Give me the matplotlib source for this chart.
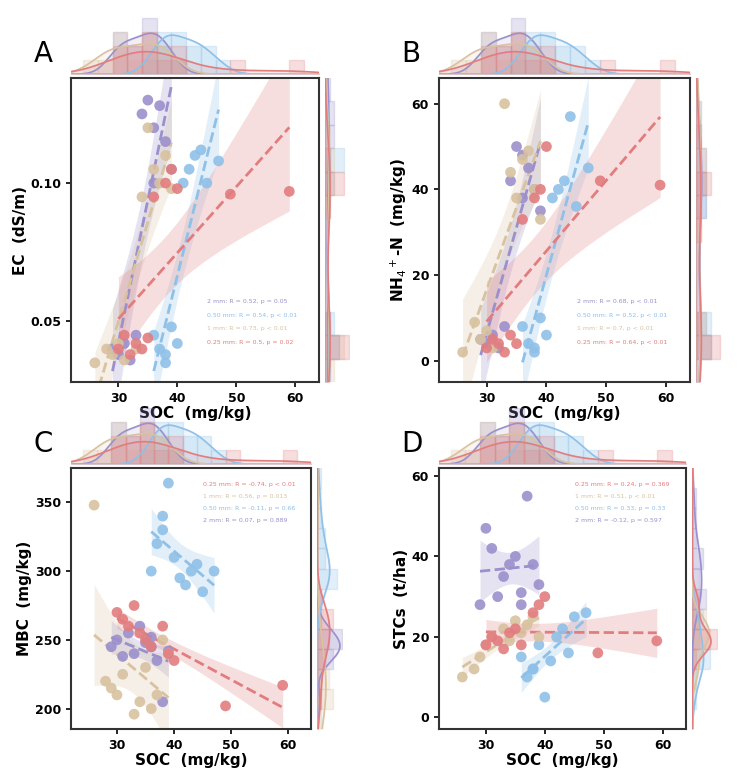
import numpy as np
import matplotlib.pyplot as plt

groups = ["2 mm", "0.50 mm", "1 mm", "0.25 mm"]
colors = ["#9b90cc", "#8fc0e8", "#d8c2a0", "#e27d7f"]

soc = {
    "2 mm":    [29, 30, 31, 32, 33, 34, 35, 36, 37, 38, 39, 36],
    "0.50 mm": [36, 37, 38, 39, 40, 41, 42, 43, 44, 45, 47, 38],
    "1 mm":    [26, 28, 29, 30, 31, 33, 34, 35, 36, 37, 38, 39],
    "0.25 mm": [30, 31, 32, 33, 34, 35, 36, 38, 39, 40, 49, 59],
}
ec = {
    "2 mm":    [0.040, 0.038, 0.042, 0.036, 0.045, 0.125, 0.130, 0.120, 0.128, 0.115, 0.105, 0.100],
    "0.50 mm": [0.045, 0.040, 0.035, 0.048, 0.042, 0.100, 0.105, 0.110, 0.112, 0.100, 0.108, 0.038],
    "1 mm":    [0.035, 0.040, 0.038, 0.042, 0.036, 0.040, 0.095, 0.120, 0.105, 0.100, 0.110, 0.098],
    "0.25 mm": [0.040, 0.045, 0.038, 0.042, 0.040, 0.044, 0.095, 0.100, 0.105, 0.098, 0.096, 0.097],
}
nh4 = {
    "2 mm":    [5, 4, 6, 3, 8, 42, 50, 38, 45, 40, 35, 48],
    "0.50 mm": [8, 4, 2, 10, 6, 38, 40, 42, 57, 36, 45, 3],
    "1 mm":    [2, 9, 5, 7, 3, 60, 44, 38, 47, 49, 40, 33],
    "0.25 mm": [3, 5, 4, 2, 6, 4, 33, 38, 40, 50, 42, 41],
}
mbc = {
    "2 mm":    [245, 250, 238, 255, 240, 260, 248, 252, 235, 205, 242, 245],
    "0.50 mm": [300, 320, 340, 364, 310, 295, 290, 300, 305, 285, 300, 330],
    "1 mm":    [348, 220, 215, 210, 225, 196, 205, 230, 200, 210, 250, 240],
    "0.25 mm": [270, 265, 260, 275, 255, 250, 245, 260, 240, 235, 202, 217],
}
stc = {
    "2 mm":    [28, 47, 42, 30, 35, 38, 40, 28, 55, 38, 33, 31],
    "0.50 mm": [15, 10, 12, 18, 5, 14, 20, 22, 16, 25, 26, 12],
    "1 mm":    [10, 12, 15, 18, 20, 22, 19, 24, 21, 23, 25, 20],
    "0.25 mm": [18, 20, 19, 17, 21, 22, 18, 26, 28, 30, 16, 19],
}

legend_A = ["2 mm: R = 0.52, p = 0.05", "0.50 mm: R = 0.54, p < 0.01",
            "1 mm: R = 0.73, p < 0.01", "0.25 mm: R = 0.5, p = 0.02"]
legend_B = ["2 mm: R = 0.68, p < 0.01", "0.50 mm: R = 0.52, p < 0.01",
            "1 mm: R = 0.7, p < 0.01", "0.25 mm: R = 0.64, p < 0.01"]
legend_C = ["0.25 mm: R = -0.74, p < 0.01", "1 mm: R = 0.56, p = 0.013",
            "0.50 mm: R = -0.11, p = 0.66", "2 mm: R = 0.07, p = 0.889"]
legend_D = ["0.25 mm: R = 0.24, p = 0.369", "1 mm: R = 0.51, p < 0.01",
            "0.50 mm: R = 0.33, p = 0.33", "2 mm: R = -0.12, p = 0.597"]


def kde(v, grid):
    v = np.asarray(v, float)
    bw = 1.06 * v.std() * len(v) ** -0.2
    d = np.exp(-0.5 * ((grid[:, None] - v[None, :]) / bw) ** 2).sum(1)
    return d / (len(v) * bw * np.sqrt(2 * np.pi))


def panel(fig, left, bottom, w, h, ydata, ylabel, letter, ylim, yticks, legend, leg_top):
    ax = fig.add_axes([left, bottom, w, h])
    axt = fig.add_axes([left, bottom + h + 0.005, w, 0.075], sharex=ax)
    axr = fig.add_axes([left + w + 0.008, bottom, 0.034, h], sharey=ax)
    xlim = (22, 64)
    for g, c in zip(groups, colors):
        x = np.array(soc[g], float)
        y = np.array(ydata[g], float)
        b, a = np.polyfit(x, y, 1)
        xs = np.linspace(x.min(), x.max(), 50)
        res = y - (a + b * x)
        s = np.sqrt((res ** 2).sum() / (len(x) - 2))
        se = s * np.sqrt(1 / len(x) + (xs - x.mean()) ** 2 / ((x - x.mean()) ** 2).sum())
        ax.fill_between(xs, a + b * xs - 1.6 * se, a + b * xs + 1.6 * se, color=c, alpha=0.25, lw=0)
        ax.plot(xs, a + b * xs, "--", color=c, lw=2)
        ax.scatter(x, y, s=60, color=c, alpha=0.9, edgecolor="none", zorder=3)
        # marginal histograms
        axt.hist(x, bins=np.arange(24, 62, 2.5), density=True, color=c, alpha=0.25, edgecolor=c)
        gx = np.linspace(*xlim, 200)
        axt.plot(gx, kde(x, gx), color=c, lw=1.2)
        axt.fill_between(gx, kde(x, gx), color=c, alpha=0.15)
        yb = np.linspace(ylim[0], ylim[1], 14)
        axr.hist(y, bins=yb, density=True, orientation="horizontal", color=c, alpha=0.25, edgecolor=c)
        gy = np.linspace(ylim[0], ylim[1], 200)
        axr.plot(kde(y, gy), gy, color=c, lw=1.2)
        axr.fill_betweenx(gy, kde(y, gy), color=c, alpha=0.15)
    ax.set_xlim(*xlim)
    ax.set_ylim(*ylim)
    ax.set_xticks([30, 40, 50, 60])
    ax.set_yticks(yticks)
    for sp in ax.spines.values():
        sp.set_linewidth(1.5)
        sp.set_color("#333333")
    ax.tick_params(labelsize=9, width=1.2)
    for t in ax.get_xticklabels() + ax.get_yticklabels():
        t.set_fontweight("bold")
    ax.set_xlabel("SOC  (mg/kg)", fontsize=11, fontweight="bold", labelpad=1)
    ax.set_ylabel(ylabel, fontsize=11, fontweight="bold", labelpad=2)
    for a_ in (axt, axr):
        a_.axis("off")
    cmap = dict(zip(groups, colors))
    yy = 0.93 if leg_top else 0.26
    for txt in legend:
        g = txt.split(":")[0]
        ax.text(0.55, yy, txt, transform=ax.transAxes, fontsize=4.5, color=cmap[g])
        yy -= 0.045
    fig.text(left - 0.05, bottom + h + 0.02, letter, fontsize=20)
    return ax


fig = plt.figure(figsize=(7.5, 7.8), dpi=100)
panel(fig, 0.095, 0.51, 0.33, 0.39, ec, "EC  (dS/m)", "A", (0.028, 0.138), [0.05, 0.1],
      legend_A, False)
panel(fig, 0.585, 0.51, 0.335, 0.39, nh4, "NH$_4$$^+$-N  (mg/kg)", "B", (-5, 66), [0, 20, 40, 60],
      legend_B, False)
panel(fig, 0.095, 0.065, 0.32, 0.335, mbc, "MBC  (mg/kg)", "C", (185, 375), [200, 250, 300, 350],
      legend_C, True)
panel(fig, 0.585, 0.065, 0.33, 0.335, stc, "STCs  (t/ha)", "D", (-3, 62), [0, 20, 40, 60],
      legend_D, True)
fig.savefig("out.png", dpi=100)
